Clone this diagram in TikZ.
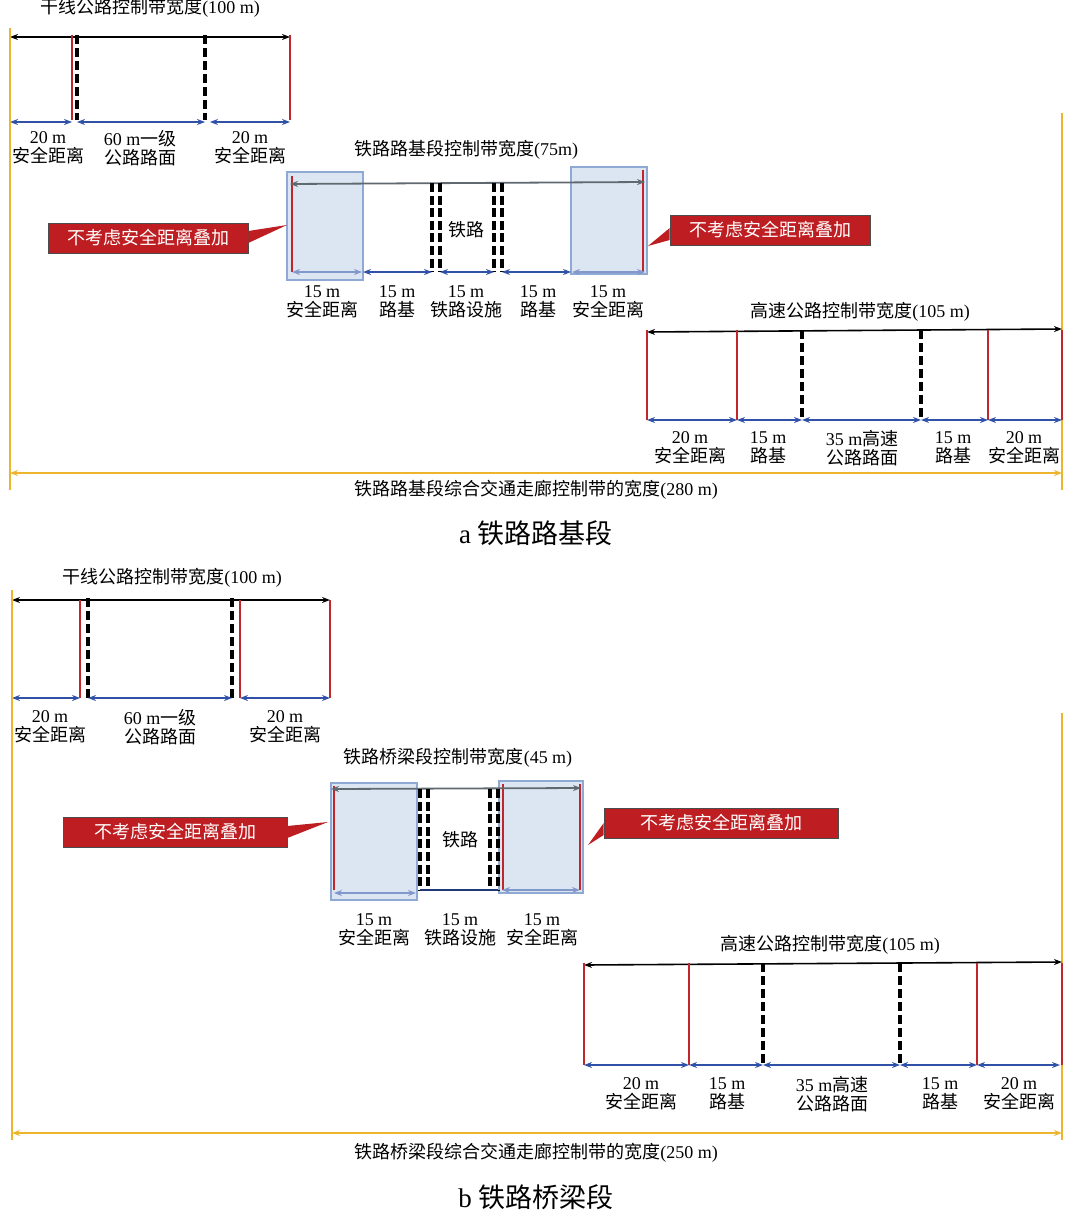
\documentclass[tikz,border=0pt]{standalone}
\usepackage{fontspec}
\setmainfont{Liberation Serif}
\newfontfamily\zh{Noto Sans CJK SC}
\usetikzlibrary{calc,arrows.meta}
\definecolor{cred}{HTML}{C0272D}
\definecolor{cblue}{HTML}{2F52A8}
\definecolor{cyel}{HTML}{EDB52E}
\definecolor{cshade}{HTML}{DCE6F2}
\definecolor{cshadeb}{HTML}{8EA9D3}
\definecolor{cgray}{HTML}{606870}
\definecolor{cbox}{HTML}{BE1E22}
\tikzset{
 redl/.style={draw=cred,line width=0.8pt},
 dsh/.style={draw=black,line width=2pt,dash pattern=on 4.5pt off 2pt},
 blk/.style={draw=black,line width=0.8pt,{Stealth[length=4pt]}-{Stealth[length=4pt]}},
 blu/.style={draw=cblue,line width=1pt,{Stealth[length=4pt]}-{Stealth[length=4pt]}},
 lblu/.style={draw=cblue!60,line width=1pt,{Stealth[length=4pt]}-{Stealth[length=4pt]}},
 gry/.style={draw=cgray,line width=0.9pt,{Stealth[length=4pt]}-{Stealth[length=4pt]}},
 yel/.style={draw=cyel,line width=0.9pt},
 yela/.style={draw=cyel,line width=0.9pt,{Stealth[length=4pt]}-{Stealth[length=4pt]}},
 lbl/.style={align=center,font=\fontsize{9}{9.5}\selectfont,inner sep=0pt},
 ttl/.style={font=\fontsize{9}{9.5}\selectfont,inner sep=0pt},
 captxt/.style={font=\fontsize{13.5}{13.5}\selectfont,inner sep=0pt},
 shd/.style={fill=cshade,draw=cshadeb,line width=0.6pt},
 callout/.style={fill=cbox,draw=black!70,line width=0.3pt,text=white,font=\zh\fontsize{9}{9.5}\selectfont,minimum height=12pt,inner xsep=6pt}
}
\begin{document}
\begin{tikzpicture}[x=0.5pt,y=-0.5pt]
\useasboundingbox (0,0) rectangle (1080,1220);
% ============ part a ============
\node[ttl] (ta1) at (150,8) {{\zh 干线公路控制带宽度}(100 m)};
\coordinate (a1l) at (10,37); \coordinate (a1r) at (290,37);
\draw[blk] (a1l) -- (a1r);
\foreach \x in {72,290} \draw[redl] (\x,35) -- (\x,120);
\foreach \x in {77,205} \draw[dsh] (\x,35) -- (\x,120);
\foreach \a/\b in {10/72,77/205,210/290} \draw[blu] (\a,122) -- (\b,122);
\node[lbl] (la1) at (48,148) {20 m\\{\zh 安全距离}};
\node[lbl] (la2) at (140,148) {60 m{\zh 一级}\\{\zh 公路路面}};
\node[lbl] (la3) at (250,148) {20 m\\{\zh 安全距离}};
% yellow
\draw[yel] (10,28) -- (10,490);
\draw[yel] (1062,113) -- (1062,490);
\draw[yela] (10,473) -- (1062,473);
\node[ttl] (tya) at (536,490) {{\zh 铁路路基段综合交通走廊控制带的宽度}(280 m)};
% railway
\node[ttl] (tra) at (466,150) {{\zh 铁路路基段控制带宽度}(75m)};
\draw[shd] (287,172) rectangle (363,280);
\draw[shd] (571,167) rectangle (647,274);
\draw[redl] (292,176) -- (292,272);
\draw[redl] (643,170) -- (643,272);
\draw[gry] (290,184) -- (645,182);
\foreach \x in {432,440,494,502} \draw[draw=black,line width=1.6pt,dash pattern=on 4.5pt off 1.8pt] (\x,183) -- (\x,272);
\node[font=\zh\fontsize{9}{9.5}\selectfont,inner sep=0pt] (rla) at (466,230) {铁路};
\foreach \a/\b in {363/432,440/494,502/571} \draw[blu] (\a,272) -- (\b,272);
\foreach \a/\b in {292/362,572/645} \draw[lblu] (\a,272) -- (\b,272);
\node[lbl] (lr1) at (322,302) {15 m\\{\zh 安全距离}};
\node[lbl] (lr2) at (397,302) {15 m\\{\zh 路基}};
\node[lbl] (lr3) at (466,302) {15 m\\{\zh 铁路设施}};
\node[lbl] (lr4) at (538,302) {15 m\\{\zh 路基}};
\node[lbl] (lr5) at (608,302) {15 m\\{\zh 安全距离}};
\node[callout,minimum width=100pt] (ca1) at (148,238) {不考虑安全距离叠加};
\coordinate (pa1) at (287,225);
\fill[cbox] ($(ca1.east)+(0,-7)$) -- (pa1) -- ($(ca1.east)+(0,5)$) -- cycle;
\node[callout,minimum width=100pt] (ca2) at (770,230) {不考虑安全距离叠加};
\coordinate (pa2) at (648,246);
\fill[cbox] ($(ca2.west)+(0,-2)$) -- (pa2) -- ($(ca2.west)+(0,10)$) -- cycle;
% highway
\node[ttl] (tha) at (860,312) {{\zh 高速公路控制带宽度}(105 m)};
\draw[blk] (647,332) -- (1062,329);
\foreach \x in {647,737,988,1062} \draw[redl] (\x,330) -- (\x,420);
\foreach \x in {802,921} \draw[dsh] (\x,330) -- (\x,420);
\foreach \a/\b in {647/737,737/802,802/921,921/988,988/1062} \draw[blu] (\a,420) -- (\b,420);
\node[lbl] (lh1) at (690,448) {20 m\\{\zh 安全距离}};
\node[lbl] (lh2) at (768,448) {15 m\\{\zh 路基}};
\node[lbl] (lh3) at (862,448) {35 m{\zh 高速}\\{\zh 公路路面}};
\node[lbl] (lh4) at (953,448) {15 m\\{\zh 路基}};
\node[lbl] (lh5) at (1024,448) {20 m\\{\zh 安全距离}};
\node[captxt] (capa) at (536,533) {a {\zh 铁路路基段}};
% ============ part b ============
\node[ttl] (tb1) at (172,578) {{\zh 干线公路控制带宽度}(100 m)};
\draw[blk] (12,600) -- (330,600);
\foreach \x in {80,240,330} \draw[redl] (\x,600) -- (\x,698);
\foreach \x in {88,232} \draw[dsh] (\x,598) -- (\x,698);
\foreach \a/\b in {12/80,88/232,240/330} \draw[blu] (\a,698) -- (\b,698);
\node[lbl] (lb1) at (50,727) {20 m\\{\zh 安全距离}};
\node[lbl] (lb2) at (160,727) {60 m{\zh 一级}\\{\zh 公路路面}};
\node[lbl] (lb3) at (285,727) {20 m\\{\zh 安全距离}};
\draw[yel] (12,590) -- (12,1140);
\draw[yel] (1062,713) -- (1062,1140);
\draw[yela] (12,1133) -- (1062,1133);
\node[ttl] (tyb) at (536,1153) {{\zh 铁路桥梁段综合交通走廊控制带的宽度}(250 m)};
% rail b
\node[ttl] (trb) at (458,758) {{\zh 铁路桥梁段控制带宽度}(45 m)};
\draw[shd] (331,783) rectangle (417,900);
\draw[shd] (499,781) rectangle (583,893);
\draw[redl] (334,786) -- (334,890);
\draw[redl] (503,784) -- (503,890);
\draw[redl] (580,784) -- (580,890);
\draw[gry] (331,789) -- (581,788);
\foreach \x in {420,428,490,498} \draw[draw=black,line width=1.6pt,dash pattern=on 4.5pt off 1.8pt] (\x,789) -- (\x,890);
\node[font=\zh\fontsize{9}{9.5}\selectfont,inner sep=0pt] (rlb) at (460,840) {铁路};
\draw[lblu] (334,893) -- (416,893);
\draw[draw=cblue!70!black,line width=1pt] (420,890) -- (498,890);
\draw[lblu] (502,890) -- (580,890);
\node[lbl] (lq1) at (374,930) {15 m\\{\zh 安全距离}};
\node[lbl] (lq2) at (460,930) {15 m\\{\zh 铁路设施}};
\node[lbl] (lq3) at (542,930) {15 m\\{\zh 安全距离}};
\node[callout,minimum width=112pt] (cb1) at (175,832) {不考虑安全距离叠加};
\coordinate (pb1) at (328,822);
\fill[cbox] ($(cb1.east)+(0,-6)$) -- (pb1) -- ($(cb1.east)+(0,6)$) -- cycle;
\node[callout,minimum width=117pt] (cb2) at (721,823) {不考虑安全距离叠加};
\coordinate (pb2) at (588,845);
\fill[cbox] ($(cb2.west)+(0,0)$) -- (pb2) -- ($(cb2.west)+(0,12)$) -- cycle;
% highway b
\node[ttl] (thb) at (830,945) {{\zh 高速公路控制带宽度}(105 m)};
\draw[blk] (584,965) -- (1062,962);
\foreach \x in {584,689,977,1062} \draw[redl] (\x,963) -- (\x,1065);
\foreach \x in {763,900} \draw[dsh] (\x,963) -- (\x,1065);
\foreach \a/\b in {584/689,689/763,763/900,900/977,977/1060} \draw[blu] (\a,1065) -- (\b,1065);
\node[lbl] (lk1) at (641,1094) {20 m\\{\zh 安全距离}};
\node[lbl] (lk2) at (727,1094) {15 m\\{\zh 路基}};
\node[lbl] (lk3) at (832,1094) {35 m{\zh 高速}\\{\zh 公路路面}};
\node[lbl] (lk4) at (940,1094) {15 m\\{\zh 路基}};
\node[lbl] (lk5) at (1019,1094) {20 m\\{\zh 安全距离}};
\node[captxt] (capb) at (536,1197) {b {\zh 铁路桥梁段}};
\end{tikzpicture}
\end{document}
